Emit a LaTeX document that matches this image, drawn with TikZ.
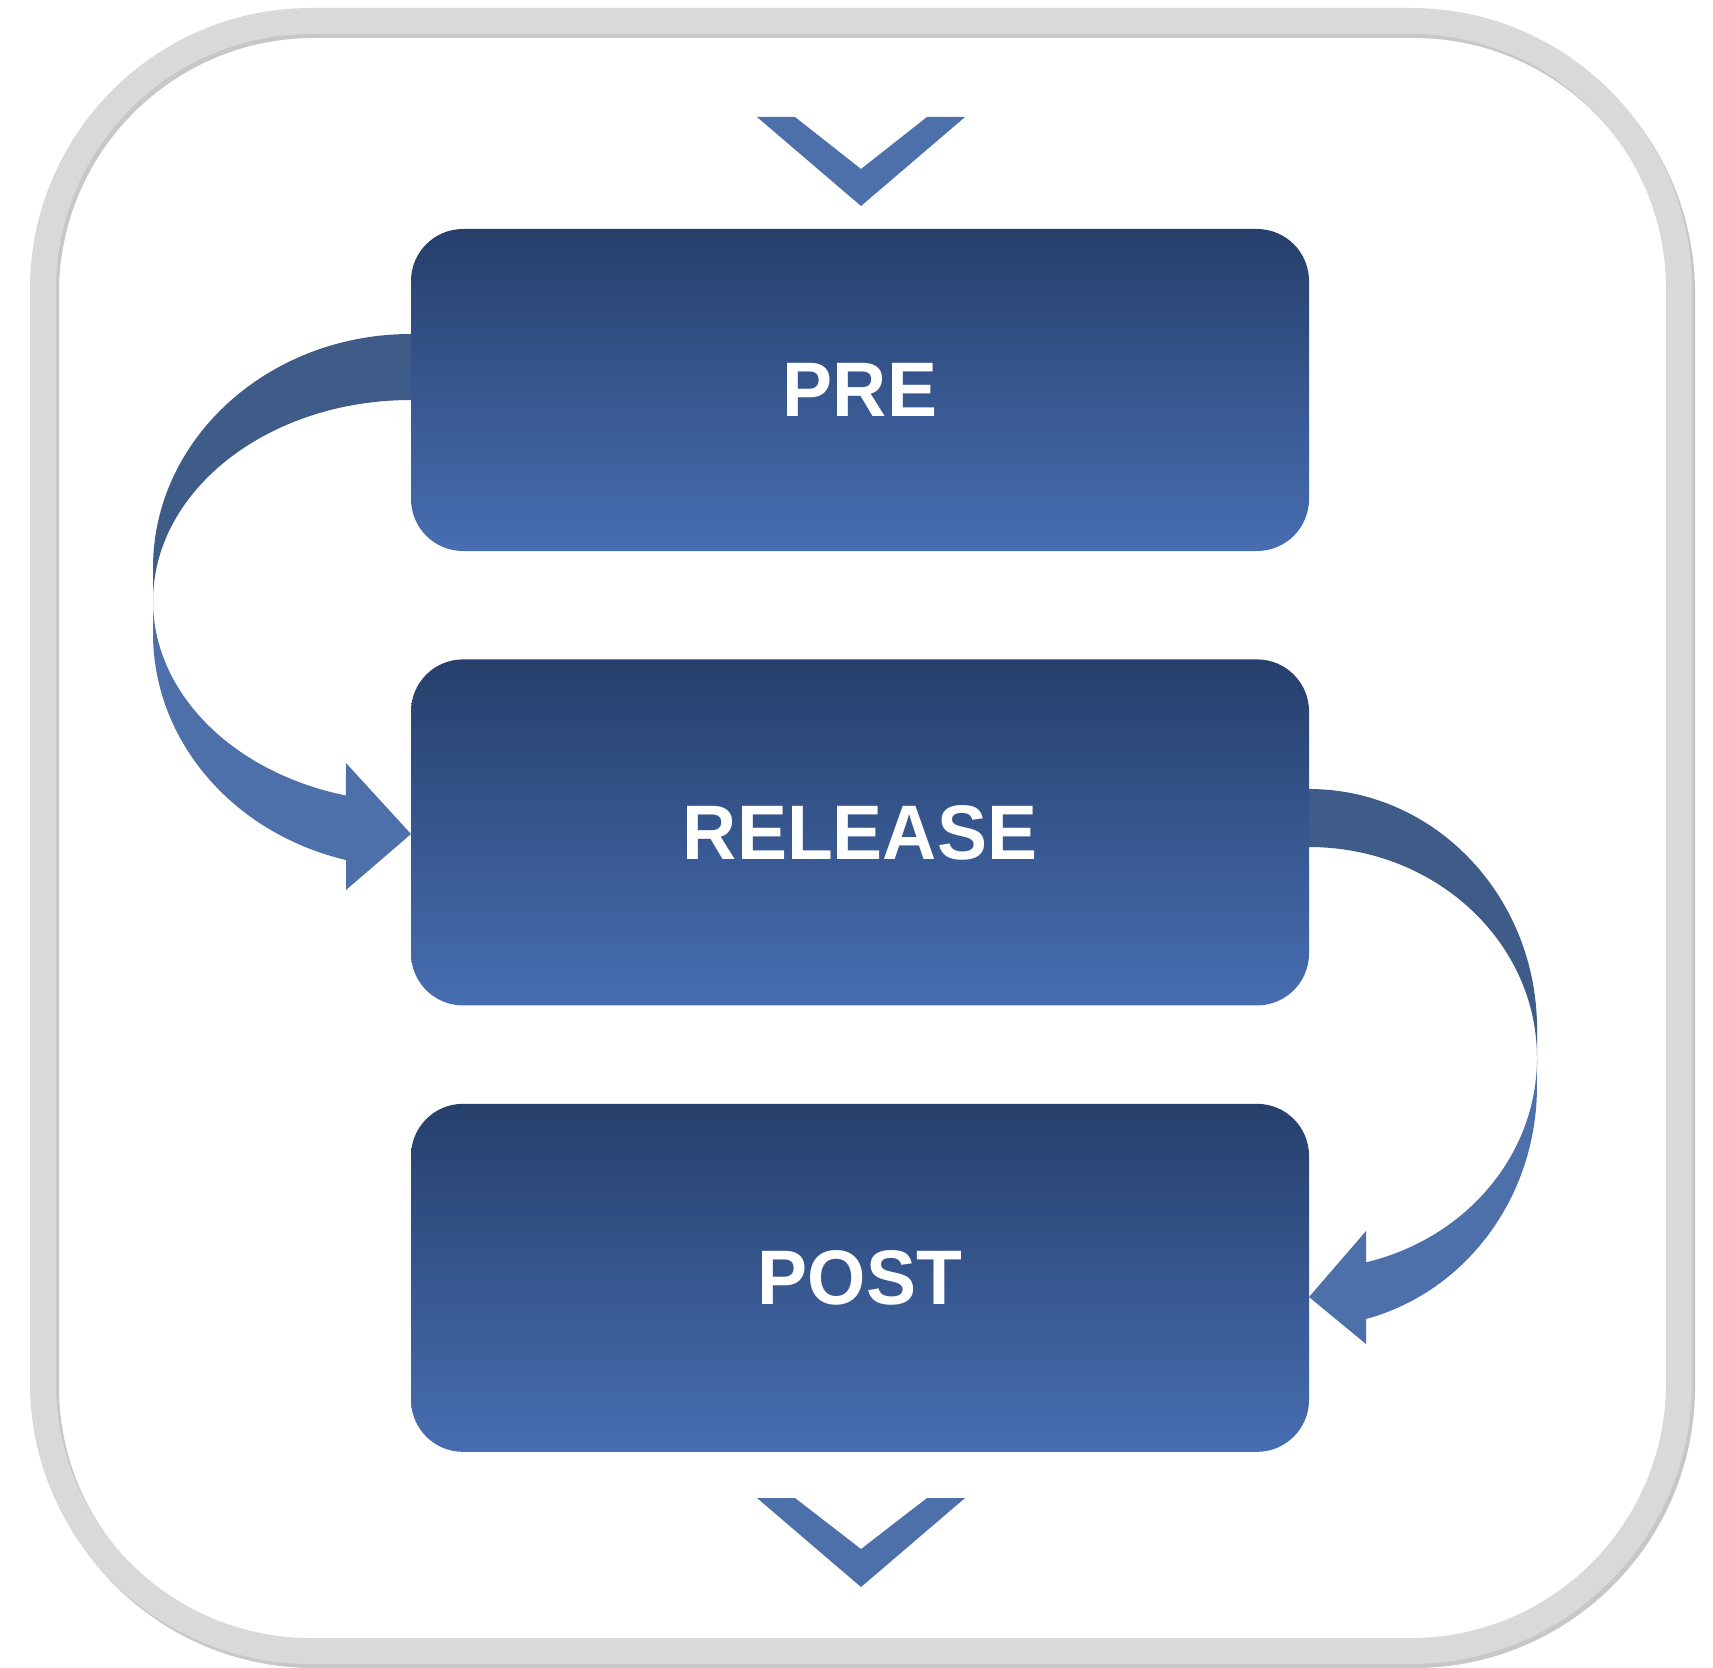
\documentclass[tikz,border=0pt]{standalone}
\usepackage{fontspec}
\setmainfont{Liberation Sans}
\newfontfamily\stageFont{Liberation Sans}[FakeStretch=0.97]
\usepackage{xcolor}
\definecolor{ringGray}{HTML}{D9D9D9}
\definecolor{boxTop}{HTML}{263F6B}
\definecolor{boxBottom}{HTML}{476EB2}
\definecolor{bandDark}{HTML}{3F5B88}
\definecolor{bandLight}{HTML}{4E70AA}
\usepackage{tikz}
\usetikzlibrary{positioning,calc}
\tikzset{%
  stageBox/.style={%
    rectangle,
    rounded corners=0.52cm,
    top color=boxTop,
    bottom color=boxBottom,
    minimum width=8.98cm,
    text=white,
    font=\stageFont\bfseries\fontsize{22}{26}\selectfont,
    align=center
  },
  frameRing/.style={%
    draw=ringGray,
    line width=0.26cm,
    rounded corners=2.68cm
  },
  chevronMark/.style={%
    fill=bandLight
  }
}

\begin{document}
\begin{tikzpicture}
            \useasboundingbox[fill=white] (0,0) rectangle (17.13,16.67);

            % outer frame with its shadow
            \draw[frameRing, draw=black, opacity=0.22, xshift=0.3mm, yshift=-0.4mm] (0.43,0.16) rectangle (16.79,16.46);
            \draw[frameRing] (0.43,0.16) rectangle (16.79,16.46);

            % loop back from PRE into RELEASE
            \fill[bandDark] (4.11,13.33) arc[start angle=90, end angle=180, x radius=2.58, y radius=2.34]
                -- (1.53,10.66) arc[start angle=180, end angle=90, x radius=2.58, y radius=2.01] -- cycle;
            \fill[bandLight] (1.53,10.66) arc[start angle=180, end angle=255.4, x radius=2.58, y radius=2.01]
                -- (3.46,9.04) -- (4.11,8.33) -- (3.46,7.77) -- (3.46,8.07)
                arc[start angle=255.4, end angle=180, x radius=2.58, y radius=2.34] -- cycle;

            % loop from RELEASE into POST
            \fill[bandDark] (13.09,8.78) arc[start angle=90, end angle=0, x radius=2.28, y radius=2.40]
                -- (15.37,6.09) arc[start angle=0, end angle=90, x radius=2.28, y radius=2.11] -- cycle;
            \fill[bandLight] (15.37,6.09) arc[start angle=0, end angle=-75.5, x radius=2.28, y radius=2.11]
                -- (13.66,4.36) -- (13.09,3.70) -- (13.66,3.23) -- (13.66,3.48)
                arc[start angle=-75.5, end angle=0, x radius=2.28, y radius=2.40] -- cycle;

            \node[stageBox, minimum height=3.22cm] (pre) at (8.60,12.77) {PRE};
            \node[stageBox, minimum height=3.46cm, below=1.07cm of pre] (release) {RELEASE};
            \node[stageBox, minimum height=3.48cm, below=0.97cm of release] (post) {POST};

            % in and out marks
            \fill[chevronMark] (7.57,15.50) -- (7.95,15.50) -- (8.61,14.98) -- (9.27,15.50)
                -- (9.65,15.50) -- (8.61,14.61) -- cycle;
            \fill[chevronMark] (7.57,1.69) -- (7.95,1.69) -- (8.61,1.18) -- (9.27,1.69)
                -- (9.65,1.69) -- (8.61,0.80) -- cycle;
        \end{tikzpicture}
\end{document}
